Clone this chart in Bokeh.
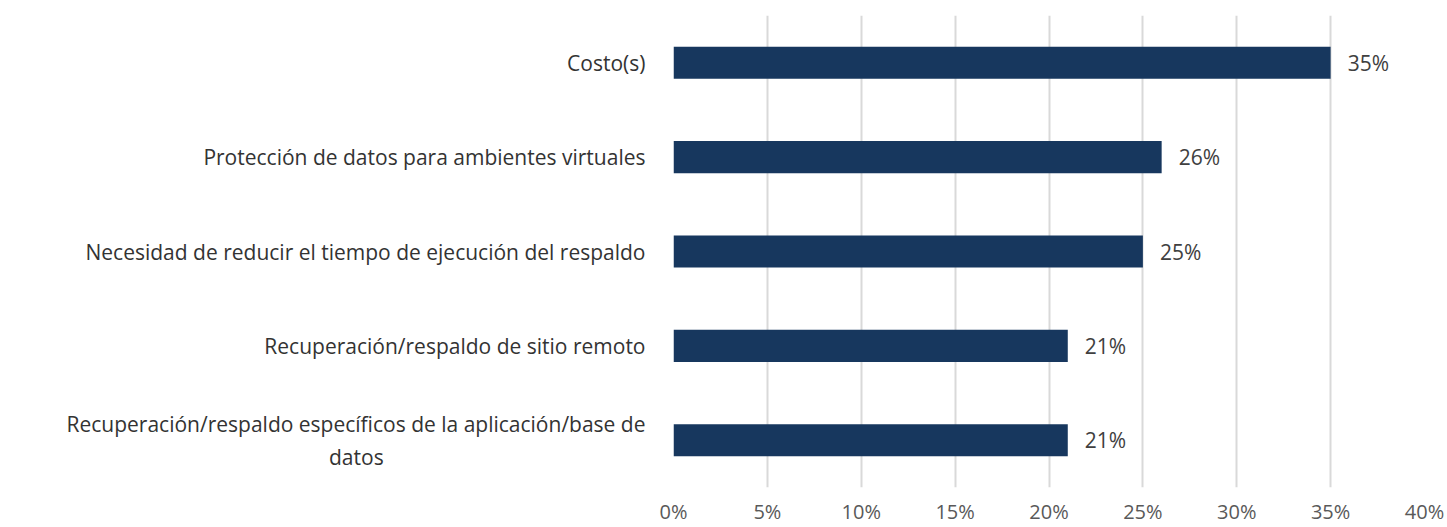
from bokeh.plotting import figure
from bokeh.models import ColumnDataSource, LabelSet, FixedTicker, NumeralTickFormatter
from bokeh.core.properties import value
from bokeh.embed import file_html
from bokeh.resources import INLINE

NBSP = "\u00a0"
categories = [
    "Costo(s)",
    "Protección de datos para ambientes virtuales",
    "Necesidad de reducir el tiempo de ejecución del respaldo",
    "Recuperación/respaldo de sitio remoto",
    "Recuperación/respaldo específicos de la aplicación/base de\ndatos" + NBSP * 48,
]
values = [35, 26, 25, 21, 21]
labels = ["35%", "26%", "25%", "21%", "21%"]
ticks = [0, 5, 10, 15, 20, 25, 30, 35, 40]

FONT = "Open Sans"

src = ColumnDataSource(dict(cat=categories, val=values, lab=labels))

p = figure(
    width=1447, height=527,
    y_range=list(reversed(categories)),
    x_range=(0, 40),
    output_backend="svg", toolbar_location=None,
    min_border_left=673, min_border_right=23, min_border_top=15, min_border_bottom=40,
)
p.outline_line_color = None
p.background_fill_color = "white"

p.hbar(y="cat", right="val", left=0, height=0.34, source=src,
       fill_color="#17375e", line_color=None)

p.add_layout(LabelSet(x="val", y="cat", text="lab", source=src, x_offset=17,
                      text_baseline="middle", text_align="left",
                      text_font=value(FONT), text_font_size="21px", text_color="#404040"))

p.xaxis.ticker = FixedTicker(ticks=ticks)
p.xaxis.formatter = NumeralTickFormatter(format="0")
p.xaxis.major_label_overrides = {t: f"{t}%" for t in ticks}
p.xaxis.axis_line_color = None
p.xaxis.major_tick_line_color = None
p.xaxis.minor_tick_line_color = None
p.xaxis.major_label_text_font = FONT
p.xaxis.major_label_text_font_size = "20px"
p.xaxis.major_label_text_color = "#595959"
p.xaxis.major_label_standoff = 4

p.yaxis.axis_line_color = None
p.yaxis.major_tick_line_color = None
p.yaxis.minor_tick_line_color = None
p.yaxis.major_label_text_font = FONT
p.yaxis.major_label_text_font_size = "21px"
p.yaxis.major_label_text_color = "#333333"
p.yaxis.major_label_standoff = 22

p.xgrid.grid_line_color = "#d9d9d9"
p.xgrid.grid_line_width = 2
p.ygrid.grid_line_color = None

open("out.html", "w").write(file_html(p, INLINE))
